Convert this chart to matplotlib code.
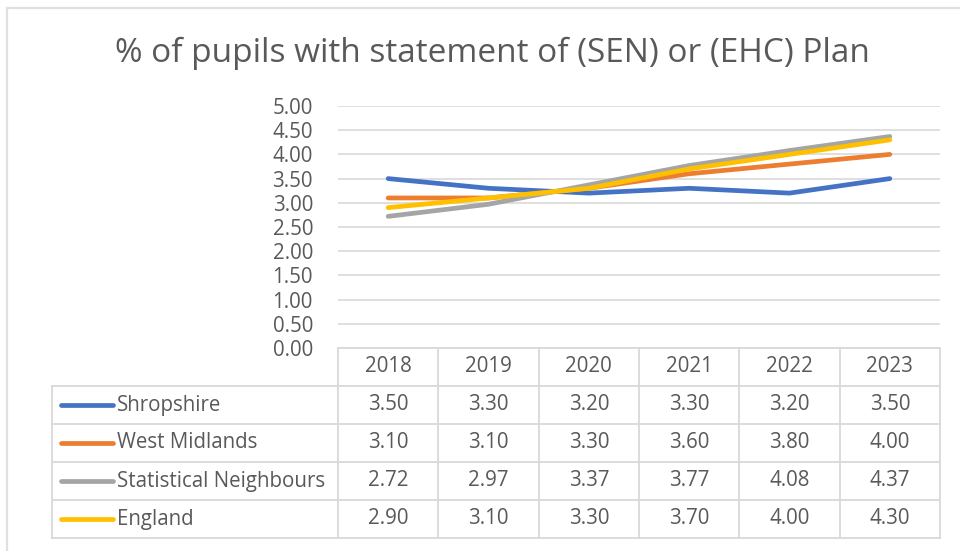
import matplotlib
matplotlib.use("Agg")
import matplotlib.pyplot as plt
from matplotlib.lines import Line2D
from matplotlib.patches import Rectangle

# data
years = ["2018", "2019", "2020", "2021", "2022", "2023"]
shropshire = [3.50, 3.30, 3.20, 3.30, 3.20, 3.50]
west_midlands = [3.10, 3.10, 3.30, 3.60, 3.80, 4.00]
stat_neighbours = [2.72, 2.97, 3.37, 3.77, 4.08, 4.37]
england = [2.90, 3.10, 3.30, 3.70, 4.00, 4.30]

series_names = ["Shropshire", "West Midlands", "Statistical Neighbours", "England"]
series_values = [shropshire, west_midlands, stat_neighbours, england]
colors = ["#4472C4", "#ED7D31", "#A5A5A5", "#FFC000"]

title = "% of pupils with statement of (SEN) or (EHC) Plan"
yticks = [0.0, 0.5, 1.0, 1.5, 2.0, 2.5, 3.0, 3.5, 4.0, 4.5, 5.0]

plt.rcParams['font.family'] = ['Open Sans', 'DejaVu Sans']
text_col = "#595959"
grid_col = "#D9D9D9"
fs = 14.8

W, H = 960, 551
fig = plt.figure(figsize=(9.6, 5.51), dpi=100)


def fx(x):
    return x / W


def fy(y):
    return 1 - y / H


# outer chart border (runs off the right and bottom edges)
fig.patches.append(Rectangle((fx(7), fy(570)), fx(990) - fx(7), fy(8) - fy(570),
                             transform=fig.transFigure, fill=False,
                             edgecolor="#E0E0E0", linewidth=1.6))

fig.text(fx(492), fy(53), title, ha="center", va="center",
         fontsize=24, color=text_col)

# plot area
left, right, top, bottom = 338, 940, 106, 348
ax = fig.add_axes([fx(left), fy(bottom), fx(right) - fx(left), fy(top) - fy(bottom)])
x = list(range(len(years)))
for vals, c in zip(series_values, colors):
    ax.plot(x, vals, color=c, linewidth=3.4, solid_capstyle="round",
            solid_joinstyle="round")
ax.set_xlim(-0.5, len(years) - 0.5)
ax.set_ylim(0, 5)
ax.set_yticks(yticks)
ax.set_yticklabels([f"{v:.2f}" for v in yticks], fontsize=fs, color=text_col)
ax.tick_params(axis="y", length=0, pad=18)
ax.set_xticks([])
for s in ax.spines.values():
    s.set_visible(False)
ax.grid(axis="y", color=grid_col, linewidth=1.2)
ax.set_axisbelow(True)
ax.patch.set_alpha(0)

# data table
col_w = (right - left) / len(years)
row_h = 38
header_top = bottom
rows_top = header_top + row_h
table_bottom = rows_top + row_h * len(series_names)
label_left = 52


def hline(x0, x1, y):
    fig.add_artist(Line2D([fx(x0), fx(x1)], [fy(y), fy(y)], color=grid_col,
                          linewidth=1.3, transform=fig.transFigure))


def vline(x, y0, y1):
    fig.add_artist(Line2D([fx(x), fx(x)], [fy(y0), fy(y1)], color=grid_col,
                          linewidth=1.3, transform=fig.transFigure))


hline(left, right, header_top)
for i in range(len(series_names) + 1):
    hline(label_left, right, rows_top + i * row_h)
for j in range(len(years) + 1):
    vline(left + j * col_w, header_top, table_bottom)
vline(label_left, rows_top, table_bottom)

for j, yr in enumerate(years):
    fig.text(fx(left + (j + 0.5) * col_w), fy(header_top + row_h / 2), yr,
             ha="center", va="center", fontsize=fs, color=text_col)

for i, (name, vals, c) in enumerate(zip(series_names, series_values, colors)):
    yc = rows_top + (i + 0.5) * row_h
    fig.add_artist(Line2D([fx(61), fx(113)], [fy(yc), fy(yc)], color=c,
                          linewidth=3.4, solid_capstyle="round",
                          transform=fig.transFigure))
    fig.text(fx(117), fy(yc), name, ha="left", va="center",
             fontsize=fs, color=text_col)
    for j, v in enumerate(vals):
        fig.text(fx(left + (j + 0.5) * col_w), fy(yc), f"{v:.2f}",
                 ha="center", va="center", fontsize=fs, color=text_col)

fig.savefig("out.png", dpi=100)
